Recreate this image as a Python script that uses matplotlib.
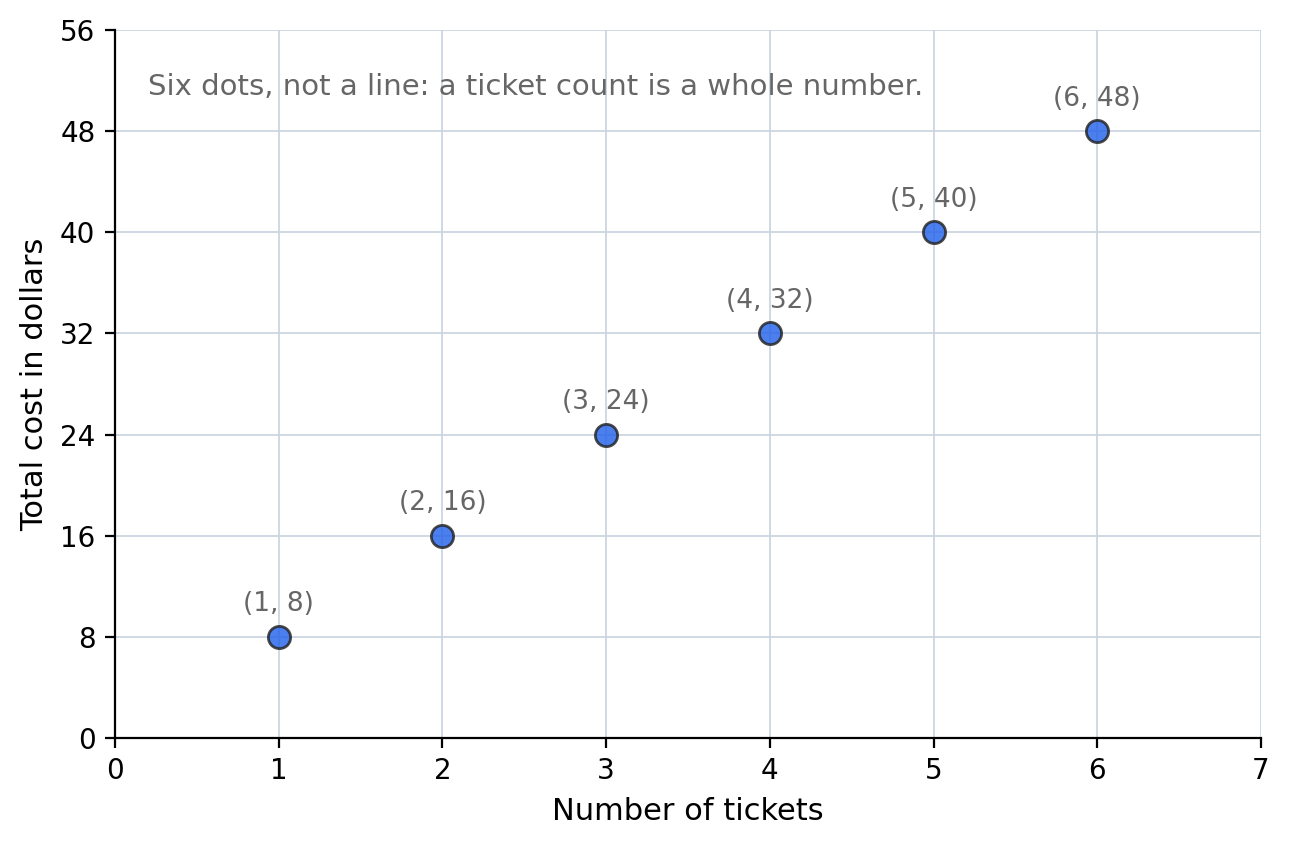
import matplotlib
matplotlib.use('Agg')
import matplotlib.pyplot as plt

# Ticket data: each ticket costs $8
tickets = [1, 2, 3, 4, 5, 6]
cost = [8, 16, 24, 32, 40, 48]
point_labels = ['(1, 8)', '(2, 16)', '(3, 24)', '(4, 32)', '(5, 40)', '(6, 48)']

fig = plt.figure(figsize=(6.45, 4.23), dpi=200)
ax = fig.add_axes([0.0891, 0.1277, 0.8884, 0.8368])

# Grid first so dots sit on top
ax.set_axisbelow(True)
ax.grid(True, color='#cbd5e1', linewidth=0.7, alpha=0.9)

ax.scatter(tickets, cost, s=64, color='#2563eb', alpha=0.82,
           edgecolors='#222222', linewidths=1.0, zorder=3)

for x, y, lab in zip(tickets, cost, point_labels):
    ax.annotate(lab, (x, y), xytext=(0, 7), textcoords='offset points',
                ha='center', va='bottom', fontsize=9.5, color='#666666')

ax.text(0.2, 51.5, 'Six dots, not a line: a ticket count is a whole number.',
        fontsize=10.5, color='#666666', va='center', ha='left')

ax.set_xlim(0, 7)
ax.set_ylim(0, 56)
ax.set_xticks(range(0, 8))
ax.set_yticks(range(0, 57, 8))
ax.tick_params(labelsize=10)

ax.set_xlabel('Number of tickets', fontsize=11)
ax.set_ylabel('Total cost in dollars', fontsize=11)

ax.spines['top'].set_visible(False)
ax.spines['right'].set_visible(False)

fig.savefig('out.png', dpi=200)
